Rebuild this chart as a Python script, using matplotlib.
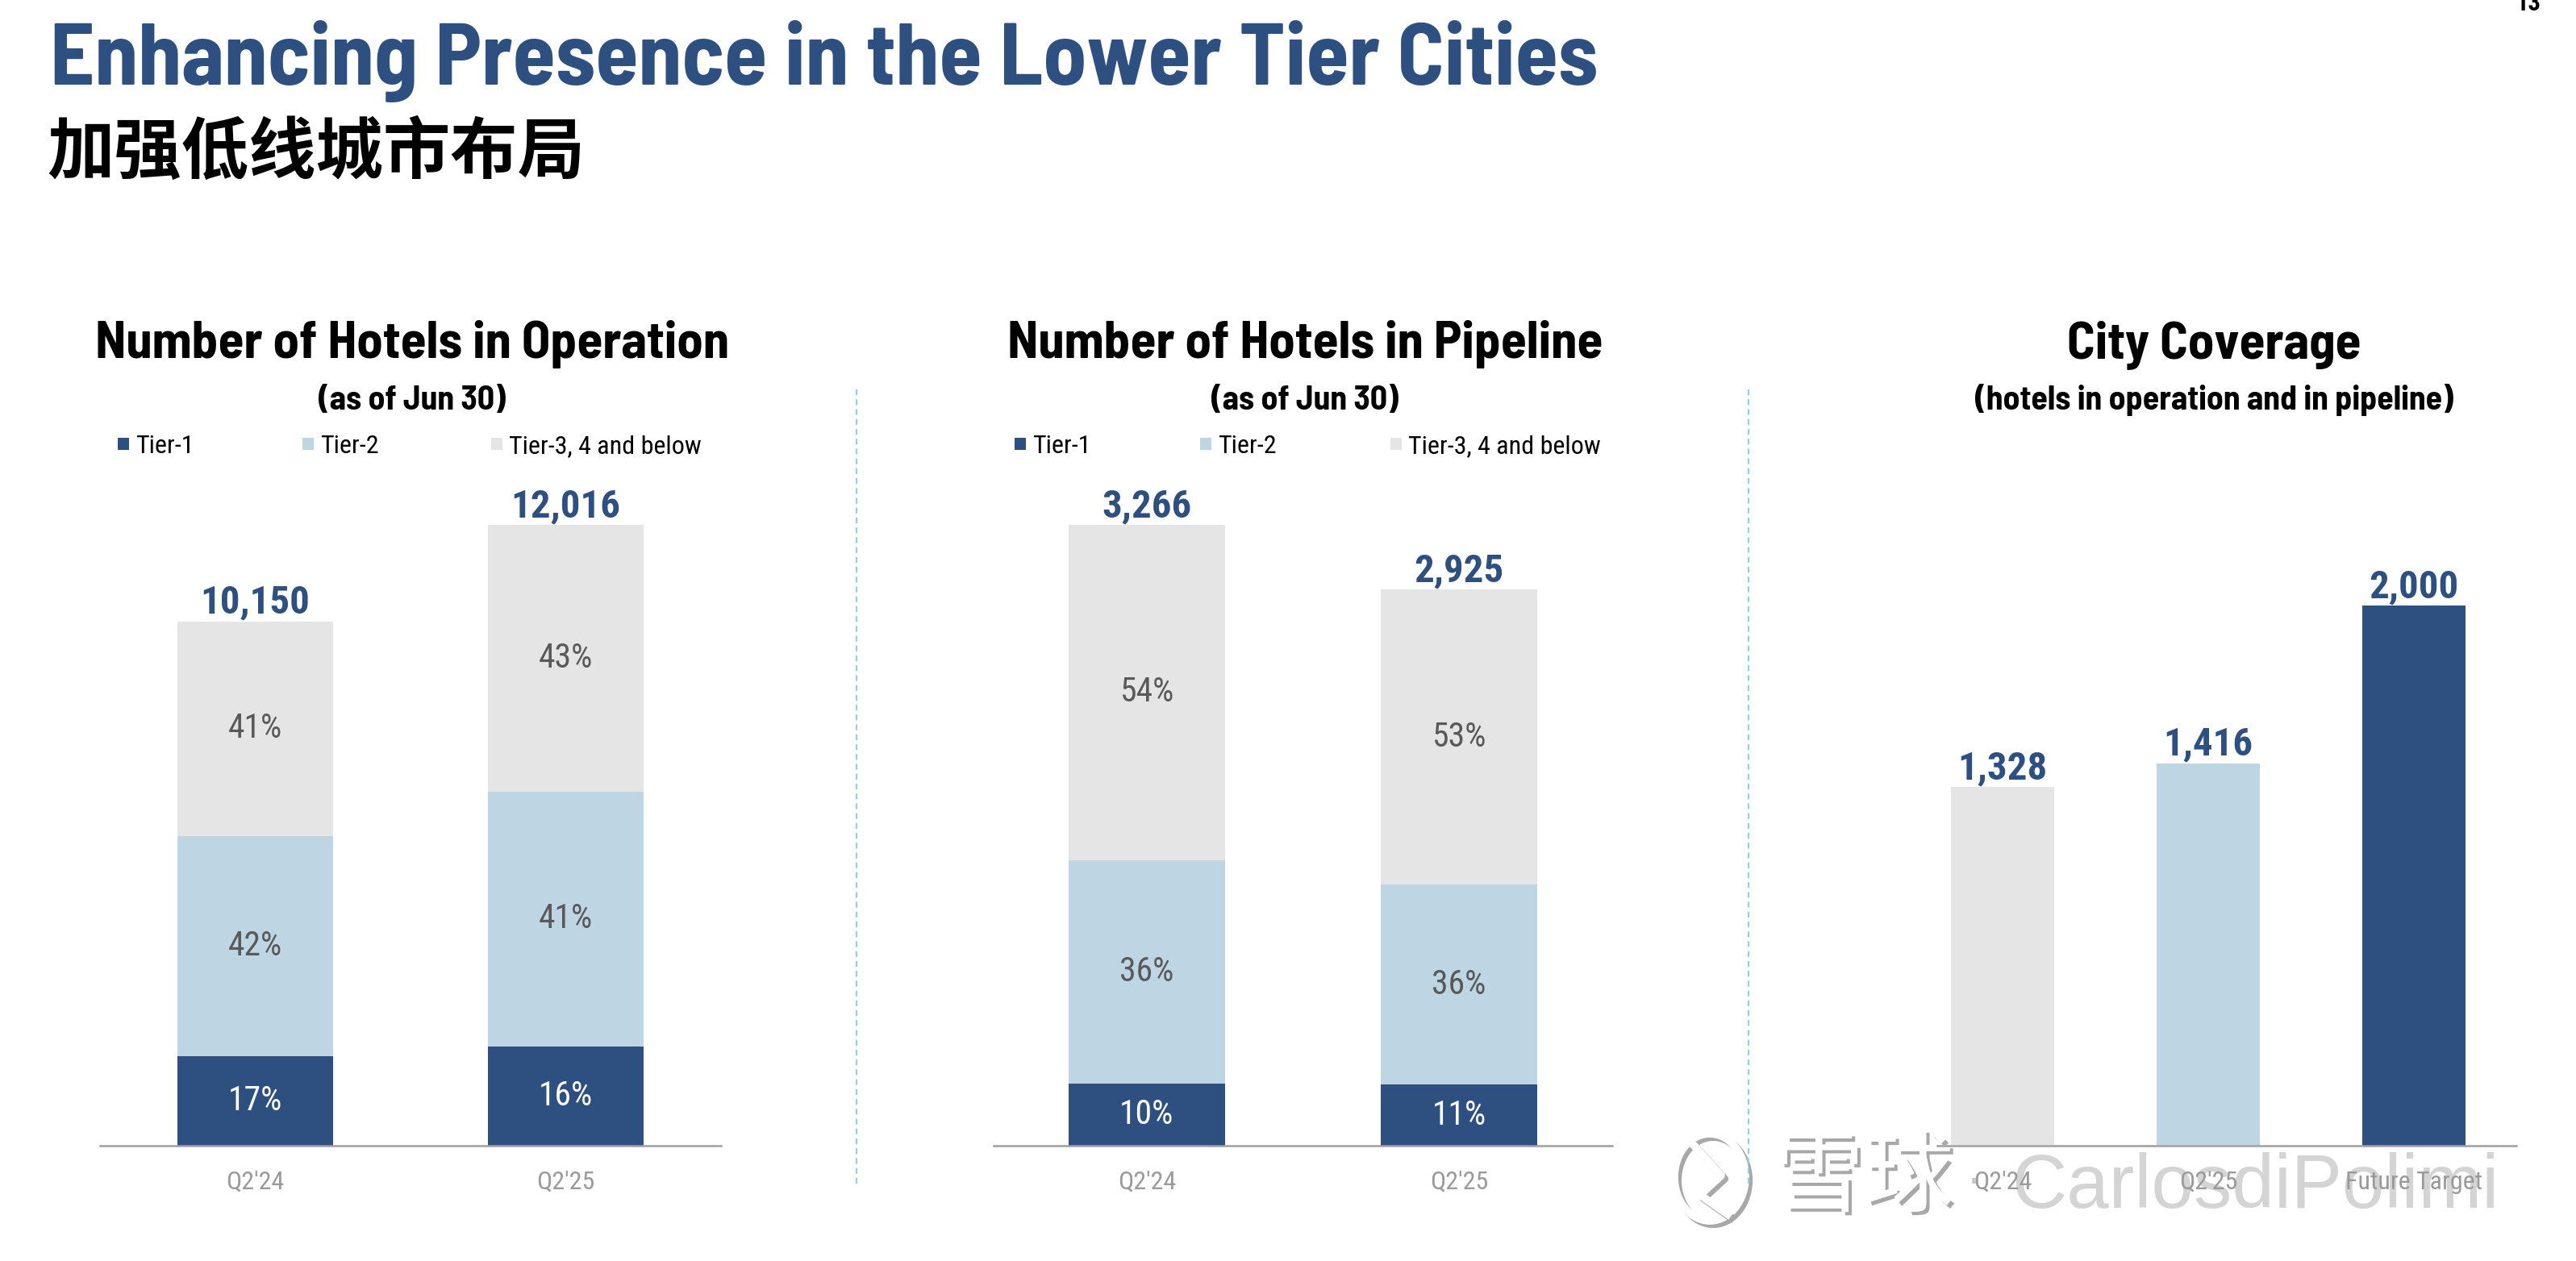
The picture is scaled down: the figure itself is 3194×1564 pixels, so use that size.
import numpy as np
import matplotlib
matplotlib.use('Agg')
import matplotlib.pyplot as plt
from matplotlib import font_manager as fm
from matplotlib.lines import Line2D
from matplotlib.patches import Rectangle
import matplotlib.patheffects as pe

plt.rcParams['lines.scale_dashes'] = False

# ---------------- data ----------------
categories = ["Q2'24", "Q2'25"]
op_totals = [10150, 12016]
op_tier1 = [17, 16]
op_tier2 = [42, 41]
op_tier3 = [41, 43]

pipe_totals = [3266, 2925]
pipe_tier1 = [10, 11]
pipe_tier2 = [36, 36]
pipe_tier3 = [54, 53]

city_labels = ["Q2'24", "Q2'25", "Future Target"]
city_values = [1328, 1416, 2000]

legend_labels = ["Tier-1", "Tier-2", "Tier-3, 4 and below"]

# ---------------- style ----------------
DARK = '#2E5080'
LIGHT = '#BED5E3'
GREY = '#E5E5E5'
tier_colors = [DARK, LIGHT, GREY]
pct_colors = ['white', '#595959', '#595959']
city_colors = [GREY, LIGHT, DARK]

W, H, DPI = 3194, 1564, 200
avail = sorted({f.name for f in fm.fontManager.ttflist})


def pick(*names):
    for n in names:
        if n in avail:
            return n
    return 'DejaVu Sans'


NARROW = pick('Roboto Condensed', 'Liberation Sans Narrow', 'Roboto')
TITLE = pick('Barlow Semi Condensed', 'Roboto Condensed', 'Roboto')
CJK = 'Noto Sans CJK SC'
SANS = pick('Liberation Sans', 'DejaVu Sans')


def fx(px):
    return px / W


def fy(py):
    return 1 - py / H


fig = plt.figure(figsize=(W / DPI, H / DPI), dpi=DPI)
fig.patch.set_facecolor('white')

# titles
fig.text(fx(62), fy(105), 'Enhancing Presence in the Lower Tier Cities', family=TITLE,
         weight='bold', fontsize=39, color=DARK, ha='left', va='baseline')
fig.text(fx(58), fy(215), '加强低线城市布局', family=[CJK, 'DejaVu Sans'], weight='bold',
         fontsize=30, color='black', ha='left', va='baseline')
fig.text(fx(3120), fy(13), '13', family=NARROW, weight='bold', fontsize=11, color='black',
         ha='left', va='baseline')


def style_axis(ax, labels):
    for s in ['top', 'right', 'left']:
        ax.spines[s].set_visible(False)
    ax.spines['bottom'].set_color('#A0A0A0')
    ax.spines['bottom'].set_linewidth(0.9)
    ax.set_yticks([])
    ax.set_xticks(range(len(labels)))
    ax.set_xticklabels(labels, family=NARROW, fontsize=11.5, color='#9A9A9A')
    ax.tick_params(axis='x', length=0, pad=11)
    ax.set_facecolor('none')


def stacked(ax, totals, tiers):
    x = list(range(len(totals)))
    bottoms = [0.0] * len(totals)
    for k, pcts in enumerate(tiers):
        vals = [t * p / 100 for t, p in zip(totals, pcts)]
        ax.bar(x, vals, width=0.5, bottom=bottoms, color=tier_colors[k], linewidth=0)
        for i in x:
            ax.text(i, bottoms[i] + vals[i] / 2, f'{pcts[i]}%', ha='center', va='center',
                    family=NARROW, fontsize=15, color=pct_colors[k])
        bottoms = [b + v for b, v in zip(bottoms, vals)]
    for i, t in zip(x, totals):
        ax.annotate(f'{t:,}', (i, t), xytext=(0, 3.5), textcoords='offset points',
                    ha='center', va='baseline', family=NARROW, weight='bold',
                    fontsize=17.6, color=DARK)
    ax.set_ylim(0, max(totals))


def panel_title(cx, title, sub):
    fig.text(fx(cx), fy(444), title, family=TITLE, weight='bold', fontsize=23.4,
             color='black', ha='center', va='baseline')
    fig.text(fx(cx), fy(508), sub, family=TITLE, weight='bold', fontsize=15,
             color='black', ha='center', va='baseline')


def legend(xs):
    for x0, lab, c in zip(xs, legend_labels, tier_colors):
        fig.add_artist(Rectangle((fx(x0), fy(558)), 14 / W, 15 / H, transform=fig.transFigure,
                                 facecolor=c, edgecolor='none'))
        fig.text(fx(x0 + 22), fy(562), lab, family=NARROW, fontsize=11.5, color='black',
                 ha='left', va='baseline')


# panel 1
ax1 = fig.add_axes([fx(124), fy(1421), (894 - 124) / W, (1421 - 651) / H])
stacked(ax1, op_totals, [op_tier1, op_tier2, op_tier3])
ax1.set_xlim(-0.5, 1.5)
style_axis(ax1, categories)
panel_title(511, 'Number of Hotels in Operation', '(as of Jun 30)')
legend([146, 375, 609])

# panel 2
ax2 = fig.add_axes([fx(1232), fy(1421), (1999 - 1232) / W, (1421 - 651) / H])
stacked(ax2, pipe_totals, [pipe_tier1, pipe_tier2, pipe_tier3])
ax2.set_xlim(-0.49, 1.49)
style_axis(ax2, categories)
panel_title(1618, 'Number of Hotels in Pipeline', '(as of Jun 30)')
legend([1258, 1488, 1724])

# panel 3
ax3 = fig.add_axes([fx(2402), fy(1421), (3120 - 2402) / W, (1421 - 751) / H])
xs = list(range(len(city_values)))
ax3.bar(xs, city_values, width=0.5, color=city_colors, linewidth=0)
for i, v in zip(xs, city_values):
    ax3.annotate(f'{v:,}', (i, v), xytext=(0, 3.5), textcoords='offset points',
                 ha='center', va='baseline', family=NARROW, weight='bold',
                 fontsize=17.6, color=DARK)
ax3.set_ylim(0, max(city_values))
ax3.set_xlim(-0.318, 2.498)
style_axis(ax3, city_labels)
panel_title(2745, 'City Coverage', '(hotels in operation and in pipeline)')

# dashed dividers
for xd in [1062, 2168]:
    fig.add_artist(Line2D([fx(xd), fx(xd)], [fy(483), fy(1471)], transform=fig.transFigure,
                          color='#8FD3EA', lw=0.8, dashes=(2.6, 1.8)))

# watermark (white glyphs with grey drop shadow), drawn behind the axes
line_shadow = [pe.SimpleLineShadow(offset=(1.5, -1.5), shadow_color='#A8A8A8', alpha=1.0),
               pe.Normal()]
text_shadow = [pe.withSimplePatchShadow(offset=(1.5, -1.5), shadow_rgbFace='#A8A8A8', alpha=1.0),
               pe.Normal()]
t = np.linspace(0, 2 * np.pi, 120)
fig.add_artist(Line2D(fx(2120) + (44 / W) * np.cos(t), fy(1460) + (54 / H) * np.sin(t),
                      transform=fig.transFigure, color='white', lw=3.5,
                      path_effects=line_shadow, zorder=-2))
fig.add_artist(Line2D([fx(2098), fx(2134), fx(2108), fx(2142)],
                      [fy(1418), fy(1458), fy(1482), fy(1506)], transform=fig.transFigure,
                      color='white', lw=3.5, path_effects=line_shadow, zorder=-2))
fig.text(fx(2200), fy(1494), '雪球', family=[CJK, 'DejaVu Sans'], fontsize=40, color='white',
         ha='left', va='baseline', path_effects=text_shadow, zorder=-2)
fig.text(fx(2448), fy(1465), '·', family=SANS, fontsize=22, color='#C8C8C8',
         ha='center', va='center', zorder=-2)
fig.text(fx(2494), fy(1498), 'CarlosdiPolimi', family=SANS, fontsize=34,
         color='#D4D4D4', ha='left', va='baseline', zorder=-2)

fig.savefig('out.png', dpi=DPI, facecolor='white')
